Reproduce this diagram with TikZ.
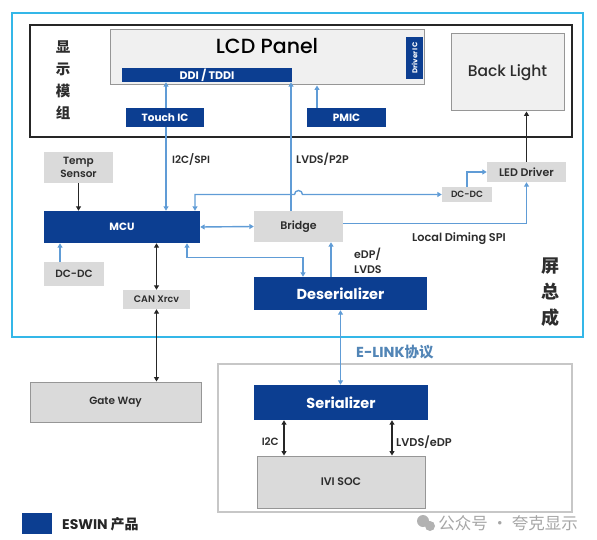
\documentclass[tikz,border=0pt]{standalone}
\usepackage{fontspec}
\setmainfont{Poppins}[UprightFont={* SemiBold}, BoldFont={* Bold}]
\newfontfamily\medium{Poppins Medium}
\newfontfamily\cjk{Noto Sans CJK SC}
\usepackage{tikz}
\usetikzlibrary{arrows.meta}

\definecolor{eswinblue}{RGB}{12,62,145}
\definecolor{linkblue}{RGB}{96,156,214}
\definecolor{framecyan}{RGB}{52,183,232}
\definecolor{boxgray}{RGB}{218,218,218}
\definecolor{panelgray}{RGB}{240,240,240}
\definecolor{edgegray}{RGB}{150,150,150}
\definecolor{textgray}{RGB}{45,45,45}

\begin{document}
\begin{tikzpicture}[x=1pt, y=-1pt, >={Triangle[length=4.5pt,width=5pt]},
		blue_style/.style={rectangle,fill=eswinblue,text=white,font=\bfseries,inner sep=0pt},
		gray_style/.style={rectangle,fill=boxgray,text=textgray,inner sep=0pt},
		frame_style/.style={rectangle,draw=edgegray,line width=1pt,text=textgray,inner sep=0pt},
		label_style/.style={text=textgray,inner sep=0pt},
		edge_style/.style={draw=linkblue,line width=1.4pt},
		black_edge/.style={draw=black!85,line width=1.3pt}]

		\useasboundingbox (0,0) rectangle (597,540);

		% frames
		\draw[framecyan, line width=2pt] (12,13) rectangle (583,337);
		\draw[black!85, line width=1.5pt] (30,25) rectangle (572,137);
		\draw[black!22, line width=1.2pt] (218,364) rectangle (572,512);

		\node[label_style, font=\cjk\bfseries\fontsize{14.5}{22}\selectfont, align=center] (module_label) at (63,80.5) {显\\示\\模\\组};
		\node[label_style, font=\cjk\bfseries\fontsize{18}{26}\selectfont, align=center] (screen_label) at (550,292) {屏\\总\\成};

		% display module
		\node[frame_style, fill=panelgray, minimum width=314, minimum height=55] (lcd) at (267,57.5) {};
		\node[text=black, font=\medium\fontsize{20.5}{22}\selectfont] (lcd_label) at (267,46) {LCD Panel};
		\node[blue_style, minimum width=170, minimum height=14, font=\bfseries\fontsize{11}{12}\selectfont] (ddi) at (207,75) {DDI / TDDI};
		\node[blue_style, rotate=90, minimum width=42, minimum height=17, font=\bfseries\fontsize{7}{8}\selectfont] (driver_ic) at (414.5,58) {Driver IC};
		\node[frame_style, fill=panelgray, minimum width=113, minimum height=77, font=\medium\fontsize{15.5}{17}\selectfont] (back_light) at (507.5,72.5) {Back Light};
		\node[blue_style, minimum width=79, minimum height=19, font=\bfseries\fontsize{10.5}{12}\selectfont] (pmic) at (346.5,117.5) {PMIC};

		% screen assembly
		\node[gray_style, minimum width=69, minimum height=31, align=center, font=\fontsize{10.5}{13}\selectfont] (temp) at (78.5,167.5) {Temp\\Sensor};
		\node[blue_style, minimum width=156, minimum height=32, font=\bfseries\fontsize{10.5}{12}\selectfont] (mcu) at (122,227) {MCU};
		\node[gray_style, minimum width=89, minimum height=31, font=\fontsize{11}{12}\selectfont] (bridge) at (298.5,226.5) {Bridge};
		\node[gray_style, minimum width=50, minimum height=15, font=\fontsize{9}{10}\selectfont] (dcdc_r) at (467,194.5) {DC-DC};
		\node[gray_style, minimum width=79, minimum height=20, font=\fontsize{11}{12}\selectfont] (led) at (526.5,172) {LED Driver};
		\node[gray_style, minimum width=60, minimum height=24, font=\fontsize{10.5}{12}\selectfont] (dcdc_l) at (74,274) {DC-DC};
		\node[gray_style, minimum width=67, minimum height=19, font=\fontsize{9.5}{10}\selectfont] (can) at (156.5,299.5) {CAN Xrcv};
		\node[blue_style, minimum width=173, minimum height=33, font=\bfseries\fontsize{14.5}{16}\selectfont] (deser) at (340.5,293.5) {Deserializer};

		% host side
		\node[frame_style, fill=boxgray, minimum width=171, minimum height=40, font=\fontsize{10.5}{12}\selectfont] (gate) at (115.5,402) {Gate Way};
		\node[blue_style, minimum width=174, minimum height=35, font=\bfseries\fontsize{14.5}{16}\selectfont] (ser) at (341,402.5) {Serializer};
		\node[frame_style, fill=boxgray, minimum width=168, minimum height=52, font=\fontsize{11}{12}\selectfont] (ivi) at (341,482) {IVI SOC};

		% connectors
		\draw[black_edge, ->] (temp) -- (temp |- mcu.north);
		\draw[black_edge, <->] (can.north) -- (can.north |- mcu.south);
		\draw[black_edge, <->] (can.south) -- (can.south |- gate.north);
		\draw[black_edge, ->] (led.north) -- (led.north |- back_light.south);
		\draw[black_edge, <->] ([xshift=-57]ser.south) -- ([xshift=-57]ser.south |- ivi.north);
		\draw[black_edge, <->] ([xshift=51]ser.south) -- ([xshift=51]ser.south |- ivi.north);

		\draw[edge_style, ->] ([xshift=-14]dcdc_l.north) -- ([xshift=-14]dcdc_l.north |- mcu.south);
		\draw[edge_style, <->] ([xshift=44]mcu.north) -- ([xshift=44]mcu.north |- ddi.south);
		\draw[edge_style, ->] ([xshift=-7.5]bridge.north) -- ([xshift=-7.5]bridge.north |- ddi.south);
		\draw[edge_style, ->] ([xshift=-29.5]pmic.north) -- ([xshift=-29.5]pmic.north |- lcd.south);
		\draw[edge_style, <->] ([xshift=73]mcu.north) |- ([xshift=-4]bridge.north |- dcdc_r.west)
			arc[start angle=180, end angle=360, radius=4] -- (dcdc_r.west);
		\draw[edge_style, ->] (dcdc_r.north) |- (led.west);
		\draw[edge_style, ->] ([yshift=3]bridge.east) -| (led.south);
		\draw[edge_style, <->] (mcu.east) -- (bridge.west);
		\draw[edge_style, <->] ([xshift=65]mcu.south) -- ++(0,14) -| ([xshift=-37.5]deser.north);
		\draw[edge_style, ->] ([xshift=-9.5]deser.north) -- ([xshift=-9.5]deser.north |- bridge.south);
		\draw[edge_style, <->] (deser.south) -- (deser.south |- ser.north);

		\node[blue_style, minimum width=78, minimum height=19, font=\bfseries\fontsize{10.5}{12}\selectfont] (touch) at (165,117.5) {Touch IC};

		% connector labels
		\node[label_style, anchor=west, font=\fontsize{10.5}{11}\selectfont] (i2c_spi_label) at (172,159) {I2C/SPI};
		\node[label_style, anchor=west, font=\fontsize{11}{11}\selectfont] (lvds_p2p_label) at (296,159) {LVDS/P2P};
		\node[label_style, anchor=west, align=left, font=\fontsize{11}{15}\selectfont] (edp_label) at (354,261) {eDP/\\LVDS};
		\node[label_style, font=\fontsize{11.3}{12}\selectfont] (spi_label) at (459,239) {Local Diming SPI};
		\node[anchor=west, inner sep=0pt, text=linkblue!85!black, font=\bfseries\fontsize{14.5}{16}\selectfont] (elink_label) at (356,352) {E-LINK{\cjk\bfseries 协议}};
		\node[label_style, anchor=east, font=\fontsize{10.5}{11}\selectfont] (i2c_label) at (279,442) {I2C};
		\node[label_style, anchor=west, font=\fontsize{11.3}{12}\selectfont] (lvds_edp_label) at (396,442) {LVDS/eDP};

		% legend
		\node[fill=eswinblue, minimum width=30, minimum height=21, inner sep=0pt] (legend) at (37,523.5) {};
		\node[label_style, anchor=west, text=black!85, font=\bfseries\fontsize{14}{16}\selectfont] (legend_label) at (62,524) {ESWIN {\cjk\bfseries 产品}};

		% watermark
		\fill[black!30] (423,521) circle (6) (430,526) circle (5);
		\node[anchor=east, inner sep=0pt, text=black!35, font=\cjk\fontsize{16.5}{18}\selectfont] (mark_label) at (578,523) {公众号 · 夸克显示};

\end{tikzpicture}
\end{document}
